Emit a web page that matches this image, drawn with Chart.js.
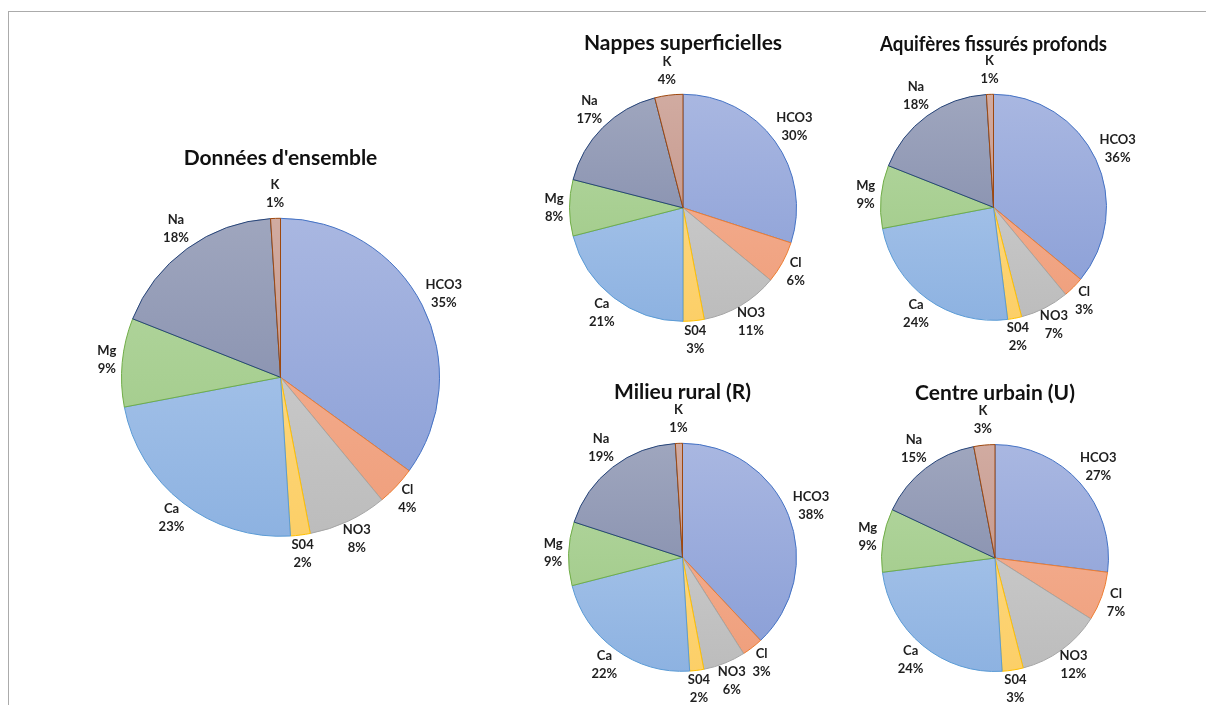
<!DOCTYPE html>
<html>
<head>
<meta charset="utf-8">
<script src="https://cdn.jsdelivr.net/npm/chart.js@4.4.0/dist/chart.umd.min.js"></script>
<style>
  html, body { margin: 0; padding: 0; background: #fff; overflow: hidden; }
  #page { position: relative; width: 1206px; height: 705px; overflow: hidden; }
  #frame { position: absolute; left: 8px; top: 11px; right: -4px; bottom: -4px;
           border-top: 1px solid #ababab; border-left: 1px solid #ababab; }
  canvas { position: absolute; }
</style>
</head>
<body>
<div id="page"><div id="frame"></div></div>
<script>
// ions, in drawing order (clockwise from 12 o'clock)
const ions = ["HCO3", "Cl", "NO3", "S04", "Ca", "Mg", "Na", "K"];

// percentages
const ensemble  = [35, 4, 8, 2, 23, 9, 18, 1];
const nappes    = [30, 6, 11, 3, 21, 8, 17, 4];
const aquiferes = [36, 3, 7, 2, 24, 9, 18, 1];
const rural     = [38, 3, 6, 2, 22, 9, 19, 1];
const urbain    = [27, 7, 12, 3, 24, 9, 15, 3];

// [light top, dark bottom] gradient + outline, office palette
const fills = [
  ["#a9b7e1", "#889dd6"],
  ["#f5b599", "#ef9e7b"],
  ["#d3d3d3", "#bcbcbc"],
  ["#fddc8f", "#fccf67"],
  ["#b3cced", "#8db2e1"],
  ["#b6d8a3", "#9bc782"],
  ["#9fa6be", "#7b85a7"],
  ["#d1aba1", "#bf8c7f"]
];
const outlines = ["#4472c4", "#ed7d31", "#a5a5a5", "#ffc000", "#5b9bd5", "#70ad47", "#264478", "#9e480e"];

const FONT = "Lato, 'Open Sans', sans-serif";

function gradFill(context) {
  const chart = context.chart;
  const area = chart.chartArea;
  const pair = fills[context.dataIndex];
  if (!area) return pair[1];
  const g = chart.ctx.createLinearGradient(0, area.top, 0, area.bottom);
  g.addColorStop(0, pair[0]);
  g.addColorStop(1, pair[1]);
  return g;
}

// outside-end labels "name / xx%"
const sliceLabels = {
  id: "sliceLabels",
  afterDatasetsDraw(chart) {
    const ctx = chart.ctx;
    const meta = chart.getDatasetMeta(0);
    const values = chart.data.datasets[0].data;
    ctx.save();
    ctx.font = "bold 13px " + FONT;
    ctx.fillStyle = "#1f1f1f";
    ctx.textAlign = "center";
    ctx.textBaseline = "middle";
    meta.data.forEach((arc, i) => {
      const p = arc.getProps(["x", "y", "startAngle", "endAngle", "outerRadius"], true);
      const mid = (p.startAngle + p.endAngle) / 2;
      const dx = Math.cos(mid), dy = Math.sin(mid);
      const lines = [chart.data.labels[i], values[i] + "%"];
      const w = Math.max(...lines.map(t => ctx.measureText(t).width));
      const hv = dy < 0 ? 19 : 13;   // labels sit a bit tighter below the pie
      const d = p.outerRadius + 6;
      const lx = p.x + dx * d + dx * w / 2;
      const ly = p.y + dy * d + dy * hv;
      ctx.fillText(lines[0], lx, ly - 9);
      ctx.fillText(lines[1], lx, ly + 9);
    });
    ctx.restore();
  }
};

const panels = [
  { title: "Données d'ensemble",           data: ensemble,  cx: 280,   cy: 377,   r: 159,   titleY: 159 },
  { title: "Nappes superficielles",        data: nappes,    cx: 682.5, cy: 207.5, r: 113.5, titleY: 44 },
  { title: "Aquifères fissurés profonds",  data: aquiferes, cx: 993.5, cy: 207,   r: 113,   titleY: 45 },
  { title: "Milieu rural (R)",             data: rural,     cx: 682.5, cy: 557,   r: 114,   titleY: 393 },
  { title: "Centre urbain (U)",            data: urbain,    cx: 994.5, cy: 558,   r: 113.5, titleY: 394 }
];

const page = document.getElementById("page");
const TITLE_SIZE = 21, TITLE_LH = 1.2;

panels.forEach(pn => {
  const padX = 80, padBottom = 45;
  const titleH = TITLE_SIZE * TITLE_LH;
  const gap = (pn.cy - pn.r) - pn.titleY - titleH / 2;
  const side = 2 * pn.r + 1;
  const canvas = document.createElement("canvas");
  canvas.width = Math.round(side + 2 * padX);
  canvas.height = Math.round(titleH + gap + side + padBottom);
  canvas.style.left = Math.round(pn.cx - side / 2 - padX) + "px";
  canvas.style.top = Math.round(pn.titleY - titleH / 2) + "px";
  page.appendChild(canvas);

  new Chart(canvas.getContext("2d"), {
    type: "pie",
    data: {
      labels: ions,
      datasets: [{
        data: pn.data,
        backgroundColor: gradFill,
        borderColor: outlines,
        borderWidth: 1
      }]
    },
    options: {
      responsive: false,
      animation: false,
      layout: { padding: { left: padX, right: padX, top: 0, bottom: padBottom } },
      plugins: {
        legend: { display: false },
        tooltip: { enabled: false },
        title: {
          display: true,
          text: pn.title,
          color: "#111",
          font: { family: FONT, size: TITLE_SIZE, weight: "bold", lineHeight: TITLE_LH },
          padding: { top: 0, bottom: gap }
        }
      }
    },
    plugins: [sliceLabels]
  });
});
</script>
</body>
</html>
